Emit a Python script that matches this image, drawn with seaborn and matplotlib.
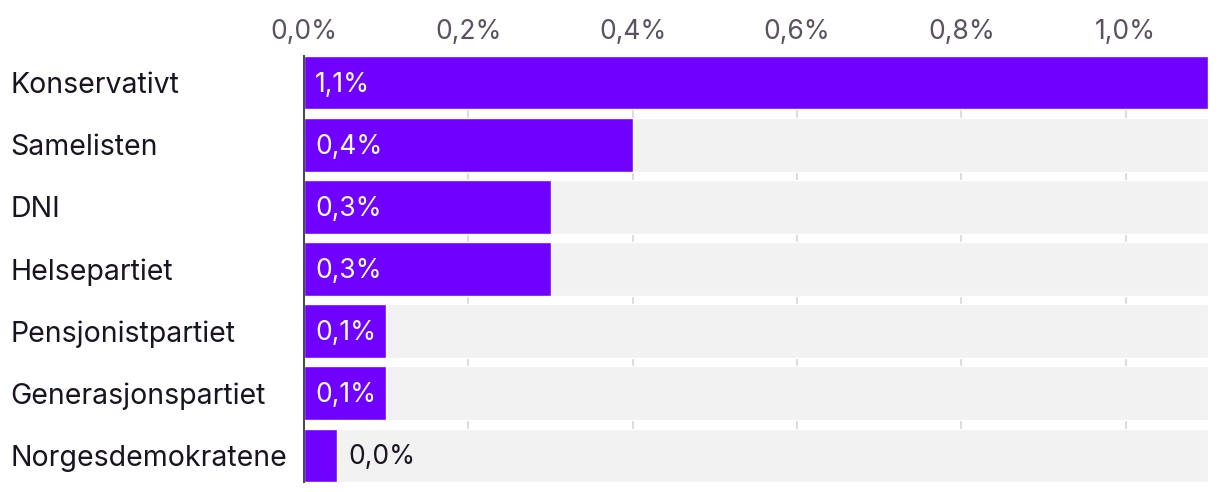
import pandas as pd
import matplotlib.pyplot as plt
import seaborn as sns

# Data
parties = ["Konservativt", "Samelisten", "DNI", "Helsepartiet",
           "Pensjonistpartiet", "Generasjonspartiet", "Norgesdemokratene"]
shares = [1.1, 0.4, 0.3, 0.3, 0.1, 0.1, 0.04]
share_labels = ["1,1%", "0,4%", "0,3%", "0,3%", "0,1%", "0,1%", "0,0%"]
x_ticks = [0.0, 0.2, 0.4, 0.6, 0.8, 1.0]
x_max = 1.1

df = pd.DataFrame({"party": parties, "share": shares, "full": [x_max] * len(parties)})

sns.set_style("white")
plt.rcParams["font.family"] = ["Inter", "DejaVu Sans"]

purple = "#7000FF"
fig = plt.figure(figsize=(12.2, 4.92), dpi=100)
ax = fig.add_axes([304 / 1220, 10 / 492, 904 / 1220, 426 / 492])

# grey track behind every bar, then the actual values
sns.barplot(data=df, x="full", y="party", orient="h", color="#F2F2F2",
            width=0.86, saturation=1, ax=ax, zorder=2)
sns.barplot(data=df, x="share", y="party", orient="h", color=purple,
            width=0.86, saturation=1, ax=ax, zorder=3)

ax.set_xlim(0, x_max)
ax.set_ylim(len(parties) - 1 + 0.43, -0.43)
ax.set_xlabel("")
ax.set_ylabel("")

# value labels: inside in white, outside in dark when the bar is too short
for i, (v, lab) in enumerate(zip(shares, share_labels)):
    if v >= 0.08:
        ax.annotate(lab, (0, i), xytext=(8, -1.5), textcoords="offset points",
                    va="center", ha="left", color="white", fontsize=19, zorder=5)
    else:
        ax.annotate(lab, (v, i), xytext=(8, -1.5), textcoords="offset points",
                    va="center", ha="left", color="#1A1320", fontsize=19, zorder=5)

# x axis on top with comma decimals
ax.xaxis.tick_top()
ax.set_xticks(x_ticks)
ax.set_xticklabels([f"{t:.1f}%".replace(".", ",") for t in x_ticks])
ax.tick_params(axis="x", length=0, pad=8, labelsize=19, labelcolor="#5B5160")
ax.grid(axis="x", color="#DCDCDC", linewidth=1.5, zorder=0)
ax.set_axisbelow(True)

# party names left aligned at the figure edge
ax.tick_params(axis="y", length=0, pad=211.5, labelsize=20.5, labelcolor="#1A1320")
for t in ax.get_yticklabels():
    t.set_ha("left")

for s in ["top", "right", "bottom"]:
    ax.spines[s].set_visible(False)
ax.spines["left"].set_color("#4D4D4D")
ax.spines["left"].set_linewidth(1.5)
ax.spines["left"].set_zorder(6)

fig.savefig("out.png", dpi=100)
